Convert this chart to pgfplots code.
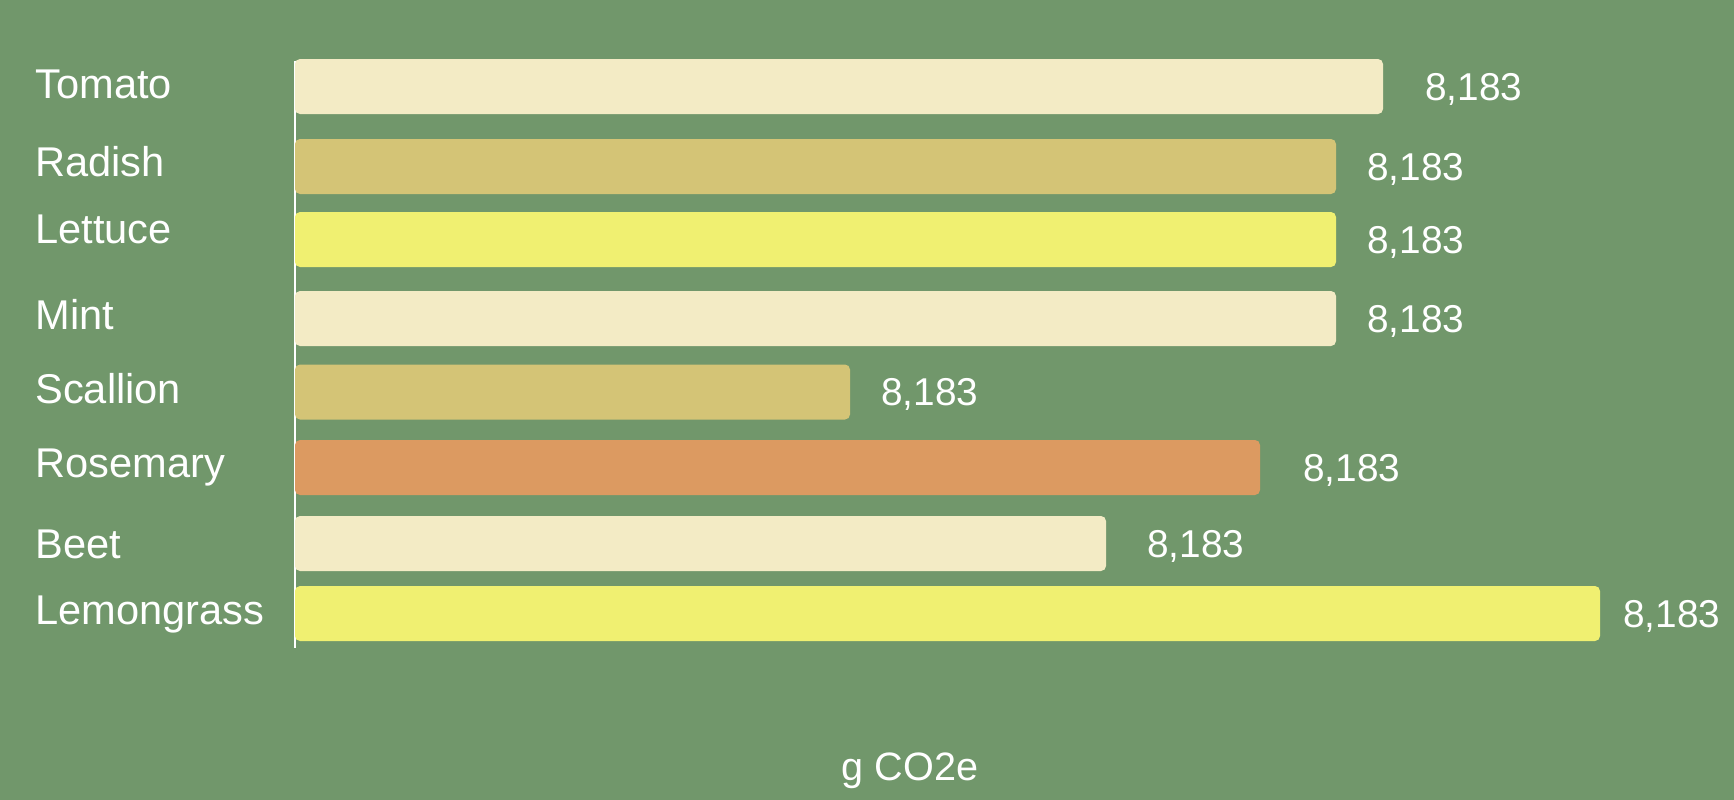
\documentclass[border=0pt]{standalone}
\usepackage{fontspec}
\setmainfont{Liberation Sans}
\usepackage{pgfplots}
\pgfplotsset{compat=1.18}
\definecolor{bgc}{HTML}{71976B}
\definecolor{cream}{HTML}{F3EBC5}
\definecolor{tan}{HTML}{D4C476}
\definecolor{yel}{HTML}{F0F071}
\definecolor{ora}{HTML}{DC9A61}
\newcommand{\labfont}{\fontsize{20.8bp}{24bp}\selectfont}
\newcommand{\valfont}{\fontsize{19.4bp}{23bp}\selectfont}
\begin{document}
\begin{tikzpicture}
\fill[bgc] (0,0) rectangle (867bp,400bp);
\begin{axis}[
  at={(147.5bp,0bp)}, anchor=south west,
  width=719.5bp, height=400bp, scale only axis,
  xmin=0, xmax=719.5, ymin=0, ymax=400, y dir=reverse,
  clip=false,
  axis line style={draw=none},
  xtick=\empty,
  ytick={49.2,88.0,121.5,164.5,201.5,238.5,279.0,312.0},
  yticklabels={Tomato,Radish,Lettuce,Mint,Scallion,Rosemary,Beet,Lemongrass},
  major tick length=0pt,
  yticklabel style={anchor=base west, inner sep=0pt, xshift=-130bp, text=white, font=\labfont},
  xbar, bar width=27.5bp, bar shift=0pt,
  xlabel={g CO2e},
  xlabel style={at={(axis cs:307.5,390)}, anchor=base, inner sep=0pt, text=white, font=\fontsize{19.8bp}{23bp}\selectfont},
  every node near coord/.append style={anchor=base west, inner sep=0pt, text=white, font=\valfont, yshift=-6.9bp},
]
\draw[white, line width=1.4bp] (axis cs:0,30.35) -- (axis cs:0,324);
\addplot[fill=cream, draw=none, rounded corners=2.5bp, nodes near coords={8,183}, every node near coord/.append style={xshift=21bp}] coordinates {(544,43.25)};
\addplot[fill=tan, draw=none, rounded corners=2.5bp, nodes near coords={8,183}, every node near coord/.append style={xshift=15.5bp}] coordinates {(520.5,83.25)};
\addplot[fill=yel, draw=none, rounded corners=2.5bp, nodes near coords={8,183}, every node near coord/.append style={xshift=15.5bp}] coordinates {(520.5,119.75)};
\addplot[fill=cream, draw=none, rounded corners=2.5bp, nodes near coords={8,183}, every node near coord/.append style={xshift=15.5bp}] coordinates {(520.5,159.25)};
\addplot[fill=tan, draw=none, rounded corners=2.5bp, nodes near coords={8,183}, every node near coord/.append style={xshift=15.5bp}] coordinates {(277.5,196)};
\addplot[fill=ora, draw=none, rounded corners=2.5bp, nodes near coords={8,183}, every node near coord/.append style={xshift=21.5bp}] coordinates {(482.5,233.75)};
\addplot[fill=cream, draw=none, rounded corners=2.5bp, nodes near coords={8,183}, every node near coord/.append style={xshift=20.5bp}] coordinates {(405.5,271.75)};
\addplot[fill=yel, draw=none, rounded corners=2.5bp, nodes near coords={8,183}, every node near coord/.append style={xshift=11.5bp}] coordinates {(652.5,306.75)};
\end{axis}
\pgfresetboundingbox
\useasboundingbox (0,0) rectangle (867bp,400bp);
\end{tikzpicture}
\end{document}
